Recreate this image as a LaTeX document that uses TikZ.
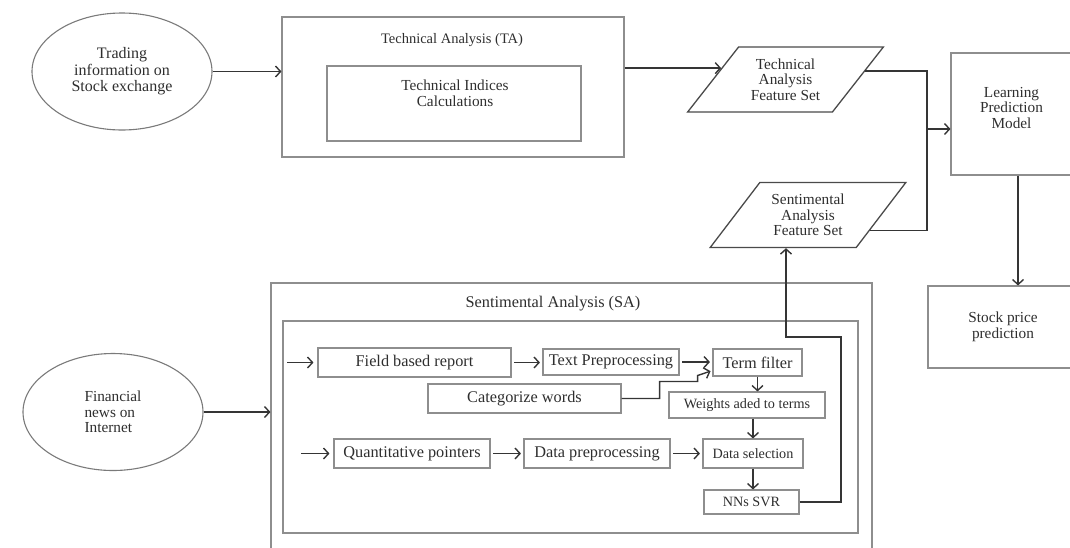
\documentclass[tikz,border=0pt]{standalone}
\usepackage{fontspec}
\setmainfont{Liberation Serif}
\usetikzlibrary{arrows.meta,shapes.geometric}
\definecolor{boxc}{HTML}{8E8E8E}
\definecolor{ellc}{HTML}{7A7A7A}
\definecolor{parc}{HTML}{4A4A4A}
\definecolor{arrc}{HTML}{353535}
\definecolor{txt}{HTML}{2E2E2E}
\begin{document}
\begin{tikzpicture}[x=1pt,y=-1pt,
  box/.style={draw=boxc,line width=1.1pt,rectangle,inner sep=0pt,text=txt},
  elli/.style={draw=ellc,line width=1.1pt,ellipse,inner sep=0pt,minimum width=180pt,minimum height=117pt,text=txt,align=center},
  para/.style={draw=parc,line width=1.3pt,trapezium,trapezium left angle=48,trapezium right angle=132,trapezium stretches=true,minimum width=196pt,minimum height=65pt,inner sep=0pt,align=center,text=txt,font=\fontsize{15.3pt}{15.5pt}\selectfont},
  big/.style={font=\fontsize{16.3pt}{17pt}\selectfont},
  small/.style={font=\fontsize{14.2pt}{15pt}\selectfont},
  mid/.style={font=\fontsize{15.3pt}{15.6pt}\selectfont,align=center,text=txt},
  arr/.style={draw=arrc,line width=1.4pt,-{Straight Barb[length=5pt,width=11pt]}},
  ln/.style={draw=arrc,line width=1.4pt},
  sarr/.style={arr,shorten >=2.5pt,shorten <=2.5pt},
]
\useasboundingbox (0,0) rectangle (1070,547);

% ---- top row ----
\node[elli,font=\fontsize{16pt}{16.5pt}\selectfont] (e1) at (122,71.5) {Trading\\information on\\Stock exchange};
\node[box,minimum width=342pt,minimum height=140pt] (tabox) at (453,87) {};
\node[mid,font=\fontsize{14.5pt}{15pt}\selectfont] (tatitle) at (452,40) {Technical Analysis (TA)};
\node[box,minimum width=254pt,minimum height=75pt] (tic) at (454,103.5) {};
\node[mid] (tictext) at (455,93) {Technical Indices\\Calculations};
\node[para] (tafs) at (785.5,79.5) {Technical\\Analysis\\Feature Set};
\node[para] (safs) at (808,215) {Sentimental\\Analysis\\Feature Set};
\node[box,minimum width=121pt,minimum height=122pt,label={[mid,yshift=6pt]center:Learning\\Prediction\\Model}] (lpm) at (1011.5,114) {};
\node[box,mid,minimum width=150pt,minimum height=82pt] (spp) at (1003,327) {Stock price\\prediction};

% ---- bottom part ----
\node[elli,align=left,font=\fontsize{15.3pt}{15.5pt}\selectfont] (e2) at (113,412) {Financial\\news on\\Internet};
\node[box,minimum width=601pt,minimum height=290pt] (saout) at (571.5,428) {};
\node[mid,big] (satitle) at (553,304) {Sentimental Analysis (SA)};
\node[box,minimum width=575pt,minimum height=212pt] (sain) at (570.5,427) {};

\node[box,big,minimum width=193pt,minimum height=29pt] (fbr) at (414.5,362.5) {Field based report};
\node[box,big,minimum width=136pt,minimum height=26pt] (tp) at (611,362) {Text Preprocessing};
\node[box,big,minimum width=89pt,minimum height=27pt] (tf) at (757.5,362.5) {Term filter};
\node[box,big,minimum width=193pt,minimum height=29pt] (cw) at (524.5,398.5) {Categorize words};
\node[box,small,minimum width=156pt,minimum height=26pt] (wt) at (747,405) {Weights aded to terms};
\node[box,big,minimum width=156pt,minimum height=29pt] (qp) at (412,453.5) {Quantitative pointers};
\node[box,big,minimum width=146pt,minimum height=29pt] (dp) at (597,453.5) {Data preprocessing};
\node[box,small,minimum width=100pt,minimum height=29pt] (ds) at (753,453.5) {Data selection};
\node[box,small,minimum width=95pt,minimum height=24pt] (nn) at (751.5,502) {NNs SVR};

\coordinate (in1) at (287,362.5);
\coordinate (in2) at (301,453.5);
\coordinate (jx) at (927,0);
\coordinate (fb1) at (841,337);
\coordinate (fb2) at (786,337);

% ---- connectors ----
\draw[arr] (e1.east) -- (e1.east -| tabox.west);
\draw[arr] (tabox.east |- tafs.170) -- (tafs.170);
\draw[ln] (tafs.6) -| (jx |- safs.-14) -- (safs.-14);
\draw[arr] (jx |- 0,129) -- (lpm.west |- 0,129);
\draw[arr] ([xshift=6.5pt]lpm.south) -- ([xshift=6.5pt]lpm.south |- spp.north);
\draw[arr] (e2.east) -- (e2.east -| saout.west);

\draw[arr,shorten >=4pt] (in1) -- (fbr.west);
\draw[sarr] (fbr.east) -- (fbr.east -| tp.west);
\draw[sarr] (tp.east) -- (tp.east -| tf.west);
\draw[arr,shorten >=2pt] (cw.east) -- ++(38,0) -- ++(0,-17) -- ++(38,0) -- ++(0,-6) -- ([yshift=-8pt]tf.west);
\draw[arr] (tf.south) -- (tf.south |- wt.north);
\draw[arr] (ds.north |- wt.south) -- (ds.north);
\draw[arr,shorten >=4pt] (in2) -- (qp.west);
\draw[sarr] (qp.east) -- (qp.east -| dp.west);
\draw[sarr] (dp.east) -- (dp.east -| ds.west);
\draw[arr] (ds.south) -- (ds.south |- nn.north);
\draw[arr] (nn.east) -| (fb1) -- (fb2) -- (fb2 |- safs.south);
\end{tikzpicture}
\end{document}
